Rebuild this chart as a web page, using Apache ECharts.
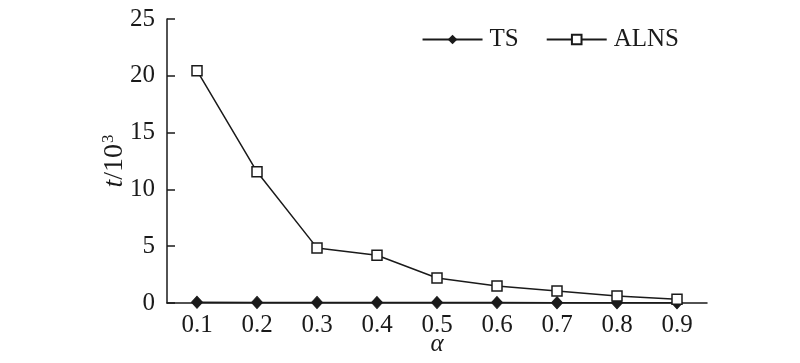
<!DOCTYPE html>
<html><head><meta charset="utf-8">
<script src="https://cdn.jsdelivr.net/npm/echarts@6/dist/echarts.min.js"></script>
<style>html,body{margin:0;padding:0;background:#fff}#c{width:800px;height:363px}</style>
</head><body><div id="c"></div>
<script>
const categories = ['0.1','0.2','0.3','0.4','0.5','0.6','0.7','0.8','0.9'];
const tsValues = [0.06, 0.05, 0.05, 0.04, 0.04, 0.04, 0.03, 0.03, 0.03];
const alnsValues = [20.45, 11.55, 4.85, 4.2, 2.2, 1.5, 1.06, 0.62, 0.33];
const yTicks = [0, 5, 10, 15, 20, 25];
const FONT = 'Liberation Serif';
const C = '#1a1a1a';
const chart = echarts.init(document.getElementById('c'), null, {renderer: 'canvas'});
chart.setOption({
  animation: false,
  backgroundColor: '#fff',
  grid: {left: 167, right: 93, top: 19, bottom: 60, containLabel: false, outerBoundsMode: 'none'},
  legend: {
    top: 22, right: 116, itemWidth: 60, itemHeight: 12, itemGap: 27,
    textStyle: {fontFamily: FONT, fontSize: 25, color: C, padding: [0,0,0,2]},
    data: ['TS', 'ALNS']
  },
  xAxis: {
    type: 'category', data: categories, boundaryGap: true,
    name: 'α', nameLocation: 'middle', nameGap: 29, nameMoveOverlap: false,
    nameTextStyle: {fontFamily: FONT, fontSize: 25, fontStyle: 'italic', color: C},
    axisLine: {lineStyle: {color: C, width: 1.5}},
    axisTick: {inside: true, length: 8, alignWithLabel: false, lineStyle: {color: C, width: 1.5}},
    axisLabel: {fontFamily: FONT, fontSize: 25, color: C, margin: 10},
    splitLine: {show: false}
  },
  yAxis: {
    type: 'value', min: 0, max: 25, interval: 5,
    name: '{i|t}{n|/10}{s|3}', nameLocation: 'middle', nameGap: 38, nameRotate: 90, nameMoveOverlap: false,
    nameTextStyle: {
      fontFamily: FONT, fontSize: 28, color: C,
      rich: {
        i: {fontFamily: FONT, fontSize: 28, fontStyle: 'italic', color: C},
        n: {fontFamily: FONT, fontSize: 28, color: C},
        s: {fontFamily: FONT, fontSize: 17, color: C, verticalAlign: 'top', padding: [0,0,12,1]}
      }
    },
    axisLine: {show: true, lineStyle: {color: C, width: 1.5}},
    axisTick: {show: true, inside: true, length: 8, lineStyle: {color: C, width: 1.5}},
    axisLabel: {fontFamily: FONT, fontSize: 25, color: C, margin: 12,
      formatter: v => yTicks.includes(v) ? String(v) : ''},
    splitLine: {show: false}
  },
  series: [
    {name: 'TS', type: 'line', data: tsValues, symbol: 'diamond', symbolSize: [11, 12],
     lineStyle: {color: C, width: 1.5}, itemStyle: {color: C, borderColor: C}, z: 3},
    {name: 'ALNS', type: 'line', data: alnsValues, symbol: 'rect', symbolSize: 10,
     lineStyle: {color: C, width: 1.5}, itemStyle: {color: '#fff', borderColor: C, borderWidth: 1.5}, z: 4}
  ]
});
</script></body></html>
